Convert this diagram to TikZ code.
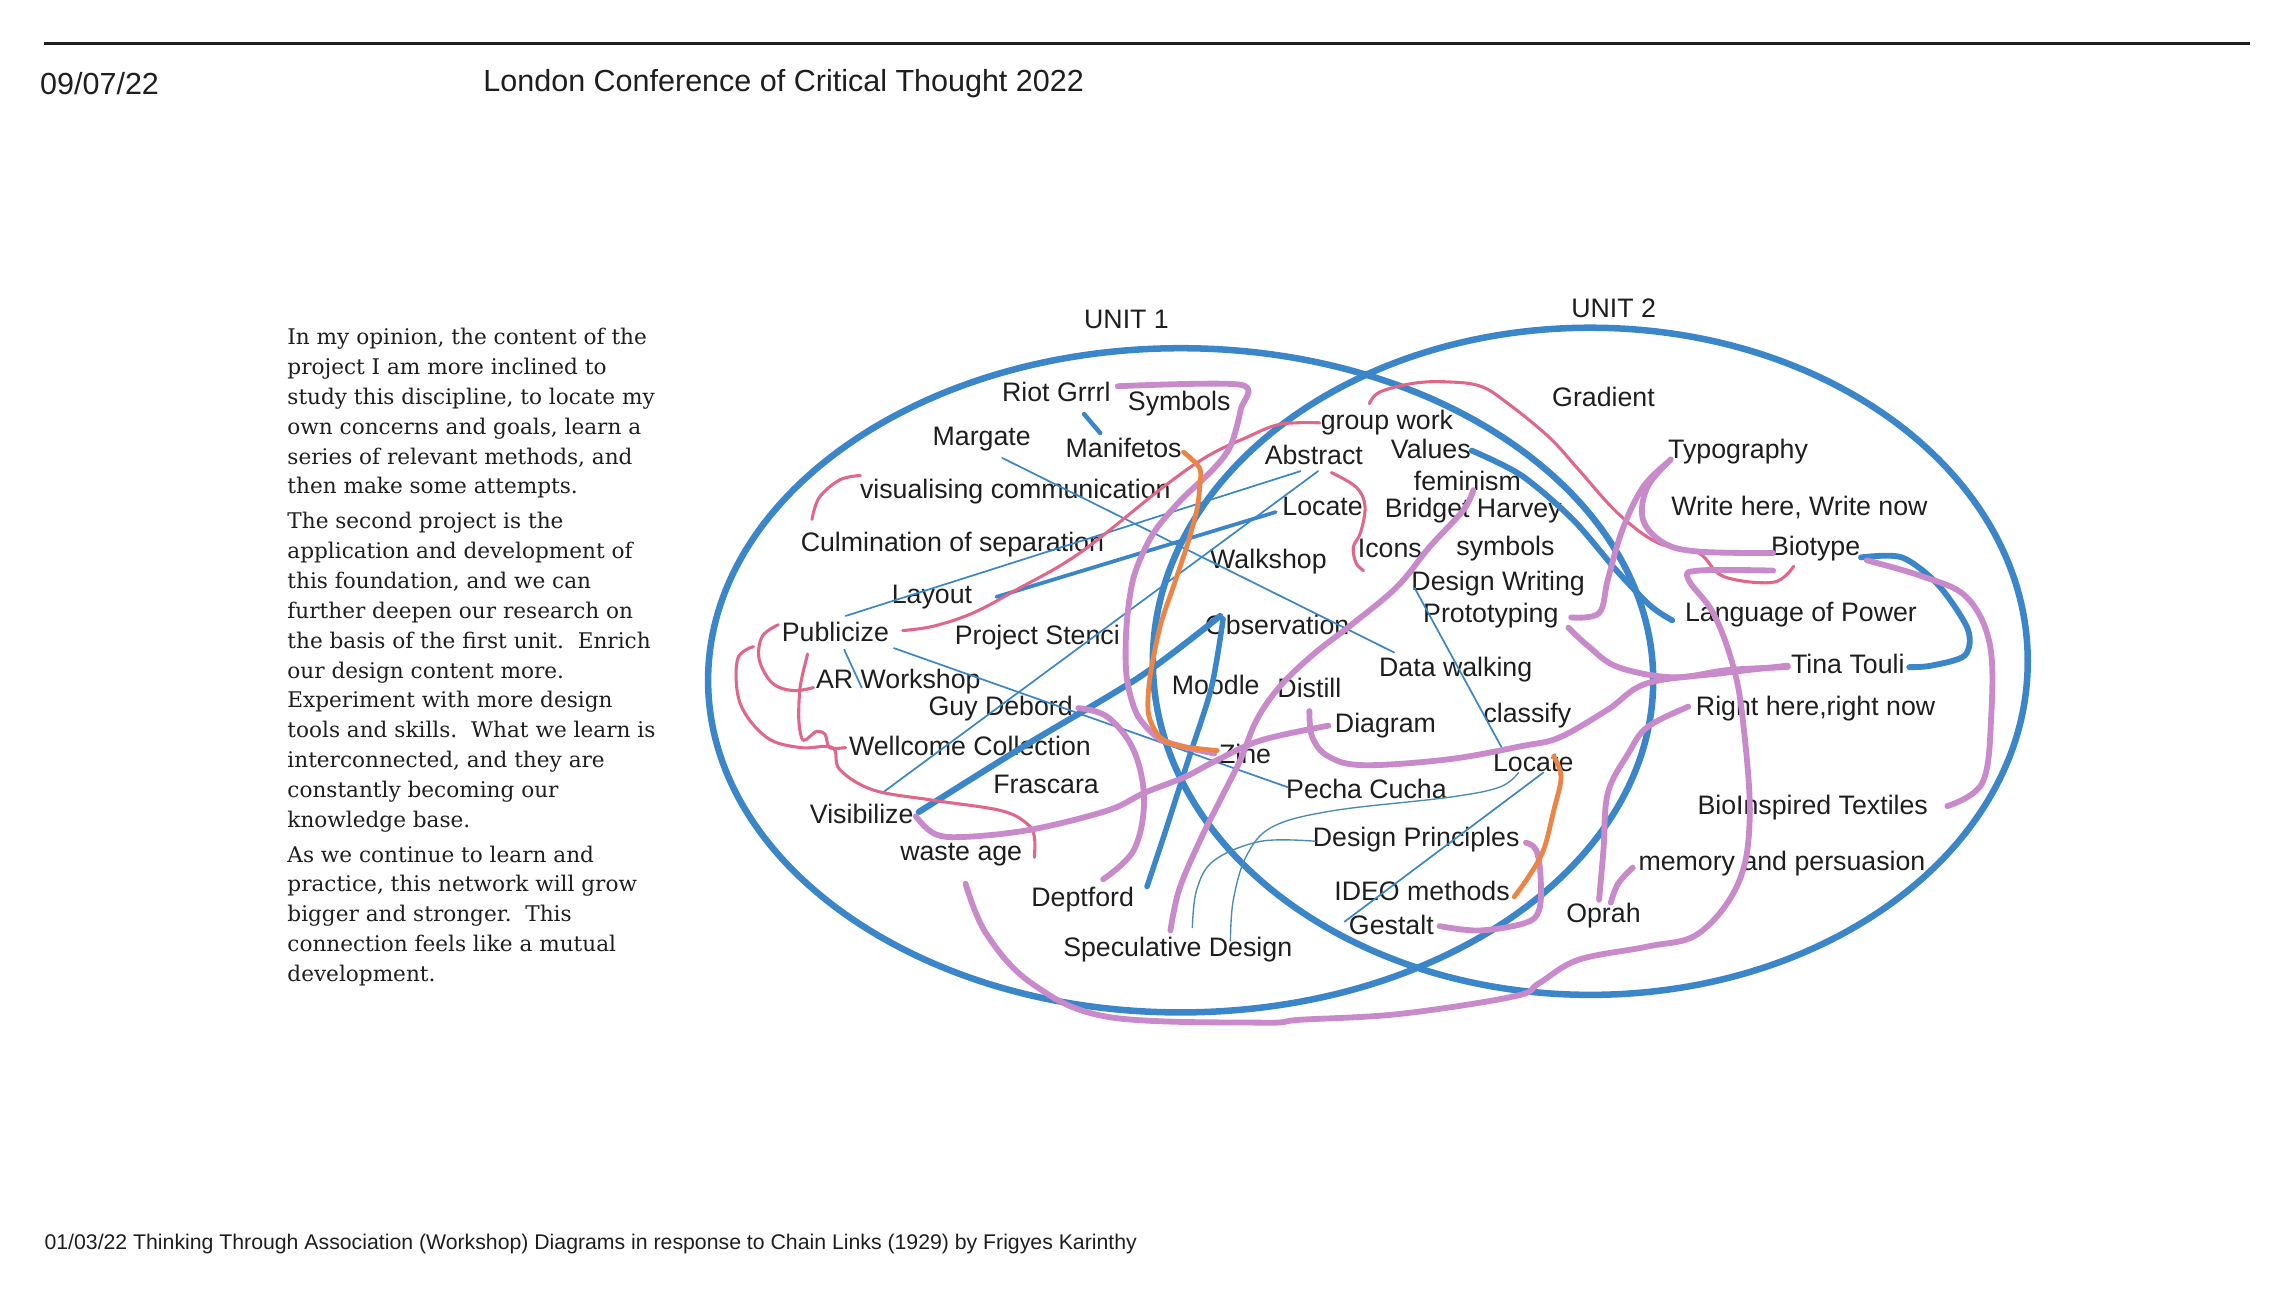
\documentclass[tikz,border=0pt]{standalone}
\usepackage{fontspec}
\setmainfont{Liberation Sans}
\newfontfamily\essayfont{DejaVu Serif}
\definecolor{ringblue}{HTML}{3A86C8}
\definecolor{lilac}{HTML}{C98ACB}
\definecolor{rose}{HTML}{E0668A}
\definecolor{amber}{HTML}{EC8446}
\definecolor{tealine}{HTML}{4A8CB0}
\definecolor{ink}{HTML}{1E1E1E}

\begin{document}
\begin{tikzpicture}[
  x=0.015cm, y=-0.015cm,
  word/.style={font=\fontsize{7.8}{9}\selectfont, text=ink, inner sep=0pt},
  head/.style={font=\fontsize{8.9}{10}\selectfont, text=ink, inner sep=0pt, anchor=west},
  ring/.style={draw=ringblue, line width=1.9pt},
  pen/.style={line cap=round, line join=round},
  lilacpen/.style={pen, draw=lilac, line width=1.7pt},
  rosepen/.style={pen, draw=rose, line width=0.9pt},
  amberpen/.style={pen, draw=amber, line width=1.4pt},
  bluepen/.style={pen, draw=ringblue, line width=#1},
  bluepen/.default=1.7pt,
  thinblue/.style={pen, draw=ringblue, line width=0.5pt},
  tealpen/.style={pen, draw=tealine, line width=0.4pt},
]
\useasboundingbox (0,0) rectangle (1568,882);

% ─── page header / footer ───────────────────────────────────────────────────
\draw[ink, line width=0.9pt] (30,30) -- (1538,30);
\node[head] (date) at (27,57) {09/07/22};
\node[head] (conf) at (330,57) {London Conference of Critical Thought 2022};
\node[inner sep=0pt, anchor=west, text=ink, font=\fontsize{6.2}{7}\selectfont] (caption) at (30,850)
      {01/03/22 Thinking Through Association (Workshop) Diagrams in response to Chain Links (1929) by Frigyes Karinthy};

% ─── essay (left column) ────────────────────────────────────────────────────
\node[anchor=north west, align=left, inner sep=0pt, text=ink,
      font=\essayfont\fontsize{6.3}{8.7}\selectfont] (essay) at (196,224)
      {In my opinion, the content of the\\
       project I am more inclined to\\
       study this discipline, to locate my\\
       own concerns and goals, learn a\\
       series of relevant methods, and\\
       then make some attempts.\\[1.5pt]
       The second project is the\\
       application and development of\\
       this foundation, and we can\\
       further deepen our research on\\
       the basis of the first unit.\ \ Enrich\\
       our design content more.\\
       Experiment with more design\\
       tools and skills.\ \ What we learn is\\
       interconnected, and they are\\
       constantly becoming our\\
       knowledge base.\\[1.5pt]
       As we continue to learn and\\
       practice, this network will grow\\
       bigger and stronger.\ \ This\\
       connection feels like a mutual\\
       development.};

% ─── the two units ──────────────────────────────────────────────────────────
\draw[ring] (807,465) ellipse [x radius=323, y radius=227];
\draw[ring] (1087,452) ellipse [x radius=299, y radius=228];
\node[word] (unitA) at (770,218) {UNIT 1};
\node[word] (unitB) at (1103,211) {UNIT 2};

% ─── words ──────────────────────────────────────────────────────────────────
\node[word] (riot)      at (722,268)  {Riot Grrrl};
\node[word] (symbols)   at (806,276)  {Symbols};
\node[word] (margate)   at (671,300)  {Margate};
\node[word] (manif)     at (768,306)  {Manifetos};
\node[word] (groupwork) at (948,289)  {group work};
\node[word] (abstract)  at (898,311)  {Abstract};
\node[word] (values)    at (978,307)  {Values};
\node[word] (feminism)  at (1003,329) {feminism};
\node[word] (gradient)  at (1096,271) {Gradient};
\node[word] (typo)      at (1188,309) {Typography};
\node[word] (viscomm)   at (694,336)  {visualising communication};
\node[word] (locateA)   at (904,346)  {Locate};
\node[word] (bridget)   at (1007,349) {Bridget Harvey};
\node[word] (writehere) at (1230,347) {Write here, Write now};
\node[word] (culmin)    at (651,372)  {Culmination of separation};
\node[word] (walkshop)  at (867,384)  {Walkshop};
\node[word] (icons)     at (950,375)  {Icons};
\node[word] (symbolsB)  at (1029,375) {symbols};
\node[word] (biotype)   at (1241,375) {Biotype};
\node[word] (dwriting)  at (1024,399) {Design Writing};
\node[word] (layout)    at (637,408)  {Layout};
\node[word] (proto)     at (1019,421) {Prototyping};
\node[word] (langpower) at (1231,420) {Language of Power};
\node[word] (publicize) at (571,432)  {Publicize};
\node[word] (stencil)   at (709,436)  {Project Stenci};
\node[word] (observ)    at (873,427)  {Observation};
\node[word] (datawalk)  at (995,458)  {Data walking};
\node[word] (tina)      at (1263,454) {Tina Touli};
\node[word] (arws)      at (614,466)  {AR Workshop};
\node[word] (debord)    at (684,484)  {Guy Debord};
\node[word] (moodle)    at (831,468)  {Moodle};
\node[word] (distill)   at (895,470)  {Distill};
\node[word] (rightnow)  at (1241,484) {Right here,right now};
\node[word] (diagram)   at (947,496)  {Diagram};
\node[word] (classify)  at (1044,489) {classify};
\node[word] (wellcome)  at (663,510)  {Wellcome Collection};
\node[word] (zine)      at (851,515)  {Zine};
\node[word] (locateB)   at (1048,521) {Locate};
\node[word] (frascara)  at (715,536)  {Frascara};
\node[word] (pecha)     at (934,539)  {Pecha Cucha};
\node[word] (visib)     at (589,556)  {Visibilize};
\node[word] (bioinsp)   at (1239,552) {BioInspired Textiles};
\node[word] (dprinc)    at (968,574)  {Design Principles};
\node[word] (waste)     at (657,584)  {waste age};
\node[word] (memory)    at (1218,590) {memory and persuasion};
\node[word] (ideo)      at (972,609)  {IDEO methods};
\node[word] (deptford)  at (740,615)  {Deptford};
\node[word] (oprah)     at (1096,626) {Oprah};
\node[word] (gestalt)   at (951,632)  {Gestalt};
\node[word] (specul)    at (805,649)  {Speculative Design};

% ─── blue links ─────────────────────────────────────────────────────────────
\draw[bluepen=1.3pt] (741,283) -- (752,296);
\draw[thinblue] (685,313) -- (953,446);
\draw[thinblue] (578,421) -- (889,322);
\draw[thinblue] (603,542) -- (901,322);
\draw[thinblue] (611,443) -- (880,538);
\draw[thinblue] (577,444) -- (589,470);
\draw[thinblue] (967,402) -- (1027,512);
\draw[thinblue] (1055,528) -- (919,630);
\draw[bluepen=1.1pt] (681,408) -- (872,350);
\draw[bluepen=1.8pt] plot[smooth, tension=0.5] coordinates
      {(628,555) (700,510) (780,462) (834,421)};
\draw[bluepen=1.6pt] plot[smooth, tension=0.5] coordinates
      {(836,423) (828,470) (812,520) (796,570) (784,606)};
\draw[bluepen] plot[smooth, tension=0.5] coordinates
      {(1006,308) (1040,325) (1075,355) (1105,390) (1128,414) (1143,424)};
\draw[bluepen] plot[smooth, tension=0.5] coordinates
      {(1272,381) (1300,381) (1325,400) (1345,430) (1343,448) (1320,455) (1305,456)};
\draw[tealpen] plot[smooth, tension=0.6] coordinates
      {(899,575) (862,575) (830,588) (818,608) (815,634)};
\draw[tealpen] plot[smooth, tension=0.6] coordinates
      {(1038,528) (1025,538) (990,545) (912,554) (870,565) (852,585) (843,615) (841,643)};

% ─── rose links ─────────────────────────────────────────────────────────────
\draw[rosepen] plot[smooth, tension=0.6] coordinates
      {(555,355) (560,340) (574,328) (588,325)};
\draw[rosepen] plot[smooth, tension=0.6] coordinates
      {(617,431) (638,428) (665,419) (695,403) (738,378) (795,333) (825,312)
       (852,299) (875,290) (902,289)};
\draw[rosepen] plot[smooth, tension=0.6] coordinates
      {(910,323) (927,333) (933,346) (930,364) (925,374) (927,385) (932,390)};
\draw[rosepen] plot[smooth, tension=0.6] coordinates
      {(936,276) (943,268) (966,262) (989,261) (1012,264) (1031,276) (1059,299)
       (1079,321) (1106,351) (1133,371) (1161,378) (1178,394) (1212,398) (1226,387)};
\draw[rosepen] plot[smooth, tension=0.6] coordinates
      {(532,427) (521,435) (519,451) (528,467) (542,472) (556,470)};
\draw[rosepen] plot[smooth, tension=0.5] coordinates
      {(552,447) (547,469) (546,492) (549,506) (558,500) (564,502) (567,511) (578,511)};
\draw[rosepen] plot[smooth, tension=0.6] coordinates
      {(515,442) (504,451) (506,481) (524,504) (547,511) (569,511) (574,526)
       (597,540) (638,547) (684,554) (702,563) (707,572) (707,586)};

% ─── lilac links ────────────────────────────────────────────────────────────
\draw[lilacpen] plot[smooth, tension=0.5] coordinates
      {(764,264) (848,263) (848,280) (841,305) (829,321) (807,342) (788,365)
       (775,394) (770,428) (770,462) (777,488) (791,504) (807,510) (830,515)};
\draw[lilacpen] plot[smooth, tension=0.6] coordinates
      {(737,484) (757,490) (775,513) (782,547) (775,581) (754,601)};
\draw[lilacpen] plot[smooth, tension=0.6] coordinates
      {(626,558) (639,570) (660,572) (705,567) (757,554) (782,542) (810,531)
       (831,520) (862,506) (908,496)};
\draw[lilacpen] plot[smooth, tension=0.6] coordinates
      {(895,486) (897,504) (908,517) (932,523) (990,519) (1040,510) (1066,504)
       (1099,485) (1126,467) (1178,460) (1222,455)};
\draw[lilacpen] plot[smooth, tension=0.6] coordinates
      {(1072,429) (1086,442) (1106,456) (1144,463) (1181,458) (1222,456)};
\draw[lilacpen] plot[smooth, tension=0.6] coordinates
      {(1074,422) (1093,419) (1099,396) (1109,362) (1123,333) (1140,316)};
\draw[lilacpen] plot[smooth, tension=0.6] coordinates
      {(1142,314) (1126,333) (1123,355) (1137,371) (1161,377) (1212,378)};
\draw[lilacpen] plot[smooth, tension=0.6] coordinates
      {(1212,390) (1161,390) (1154,396) (1171,419) (1184,453) (1191,490) (1196,558)
       (1188,604) (1161,638) (1126,647) (1079,656) (1052,672) (1035,681) (957,693)
       (889,697) (862,699) (757,695) (705,672) (674,638) (660,604)};
\draw[lilacpen] plot[smooth, tension=0.6] coordinates
      {(1276,383) (1314,394) (1344,408) (1360,440) (1361,490) (1355,535) (1331,551)};
\draw[lilacpen] plot[smooth, tension=0.6] coordinates
      {(1093,615) (1096,581) (1099,542) (1113,515) (1126,497) (1154,483)};
\draw[lilacpen] plot[smooth, tension=0.6] coordinates
      {(1101,617) (1106,604) (1116,593)};
\draw[lilacpen] plot[smooth, tension=0.6] coordinates
      {(984,633) (1011,636) (1042,631) (1052,622) (1053,599) (1050,581) (1043,576)};
\draw[lilacpen] plot[smooth, tension=0.6] coordinates
      {(1007,335) (1000,349) (977,374) (955,401) (925,426) (898,447) (875,469)
       (859,492) (848,519) (835,545) (820,575) (806,608) (800,636)};

% ─── amber links ────────────────────────────────────────────────────────────
\draw[amberpen] plot[smooth, tension=0.5] coordinates
      {(809,309) (820,320) (820,333) (818,349) (811,374) (802,401) (793,428)
       (786,463) (785,488) (793,504) (807,510) (832,513)};
\draw[amberpen] plot[smooth, tension=0.6] coordinates
      {(1062,517) (1067,531) (1062,554) (1055,581) (1045,599) (1035,613)};

\end{tikzpicture}
\end{document}
